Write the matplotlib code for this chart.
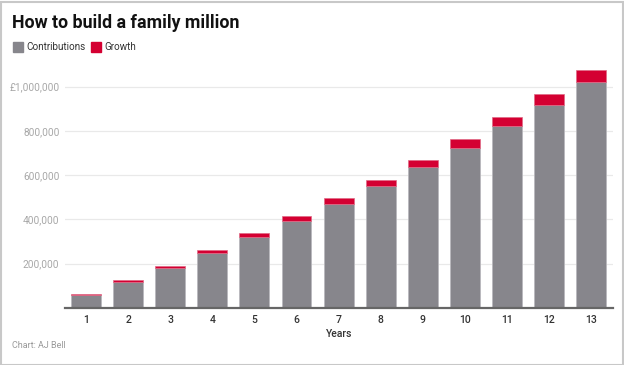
import matplotlib
matplotlib.use("Agg")
import matplotlib.pyplot as plt
from matplotlib.patches import Rectangle
from matplotlib.ticker import FuncFormatter

plt.rcParams['font.family'] = ['Roboto', 'DejaVu Sans']

years = [1, 2, 3, 4, 5, 6, 7, 8, 9, 10, 11, 12, 13]
contributions = [56000, 116000, 178000, 247000, 319000, 391000, 469000,
                 551000, 637000, 724000, 822000, 919000, 1023000]
growth = [6000, 9000, 12000, 13000, 18000, 24000, 26000,
          27000, 31000, 41000, 42000, 48000, 53000]
yticks = [200000, 400000, 600000, 800000, 1000000]

GRAY = '#87868c'
RED = '#d40032'

fig = plt.figure(figsize=(6.24, 3.65), dpi=100)
fig.patch.set_facecolor('white')

ax = fig.add_axes([65/624, (365-307.7)/365, 548/624, (307.7-64.6)/365])
ax.bar(years, contributions, width=0.71, color=GRAY, edgecolor='#b9b8bd',
       linewidth=0.6, zorder=3)
ax.bar(years, growth, bottom=contributions, width=0.71, color=RED,
       edgecolor='#e06a86', linewidth=0.5, zorder=3)

ax.set_xlim(0.5, 13.52)
ax.set_ylim(0, 1100000)
ax.set_yticks(yticks)
ax.yaxis.set_major_formatter(FuncFormatter(
    lambda v, p: ('£' if v >= 1000000 else '') + f'{int(v):,}'))
ax.set_xticks(years)
ax.set_xticklabels([str(y) for y in years])
ax.grid(axis='y', color='#e9e9e9', linewidth=0.9, zorder=0)
for s in ['top', 'right', 'left']:
    ax.spines[s].set_visible(False)
ax.spines['bottom'].set_color('#666666')
ax.spines['bottom'].set_linewidth(1.6)
ax.spines['bottom'].set_zorder(4)
ax.tick_params(axis='y', length=0, pad=4, labelsize=7.3, labelcolor='#a8a8a8')
ax.tick_params(axis='x', length=0, pad=5, labelsize=7.5, labelcolor='#333333')
for lbl in ax.get_xticklabels():
    lbl.set_fontweight('medium')
ax.set_xlabel('Years', fontsize=7.5, color='#333333', labelpad=3,
              fontweight='medium')

fig.text(12/624, 1 - 23.5/365, 'How to build a family million', fontsize=12.8,
         fontweight='bold', color='#111111', va='center', ha='left')

# legend
fig.patches.append(Rectangle((13/624, 1 - 52/365), 10/624, 10/365,
                             transform=fig.transFigure, color=GRAY))
fig.text(26/624, 1 - 47/365, 'Contributions', fontsize=7.1, color='#333333',
         va='center', ha='left')
fig.patches.append(Rectangle((91/624, 1 - 52/365), 10/624, 10/365,
                             transform=fig.transFigure, color=RED))
fig.text(104.5/624, 1 - 47/365, 'Growth', fontsize=7.1, color='#333333',
         va='center', ha='left')

fig.text(12/624, 1 - 346/365, 'Chart: AJ Bell', fontsize=6.5, color='#999999',
         va='center', ha='left')

# outer border
fig.patches.append(Rectangle((0.5/624, 0.5/365), 622/624, 363/365,
                             transform=fig.transFigure, fill=False,
                             edgecolor='#c8c8c8', linewidth=1.5))

fig.savefig('out.png', dpi=100)
